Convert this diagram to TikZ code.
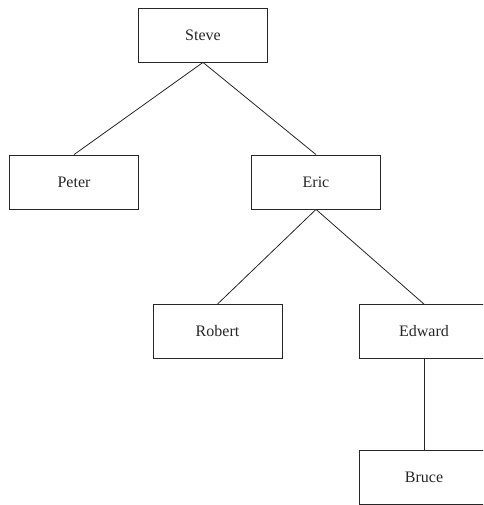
\documentclass[tikz,border=0pt]{standalone}
\usepackage{fontspec}
\setmainfont{Liberation Serif}
\begin{document}
\begin{tikzpicture}[x=1pt,y=-1pt,
  person/.style={draw=black!85,line width=0.8pt,rectangle,minimum width=129pt,minimum height=54pt,inner sep=0pt,font=\fontsize{16}{18}\selectfont,text=black!85},
  link/.style={draw=black!85,line width=0.8pt}]
\useasboundingbox (0,0) rectangle (483,505);
\clip (0,0) rectangle (483,505);
\node[person] (steve) at (203,35) {Steve};
\node[person] (peter) at (74,182) {Peter};
\node[person] (eric) at (316,182) {Eric};
\node[person] (robert) at (217.5,331.5) {Robert};
\node[person] (edward) at (424,331.5) {Edward};
\node[person] (bruce) at (424,477.5) {Bruce};
\draw[link] (steve.south) -- (peter.north);
\draw[link] (steve.south) -- (eric.north);
\draw[link] (eric.south) -- (robert.north);
\draw[link] (eric.south) -- (edward.north);
\draw[link] (edward.south) -- (bruce.north);
\end{tikzpicture}
\end{document}
